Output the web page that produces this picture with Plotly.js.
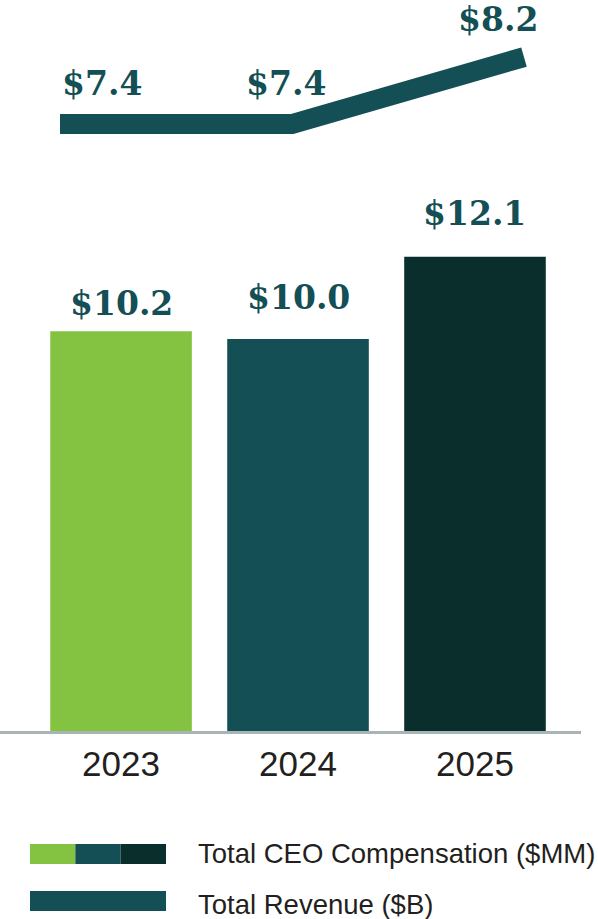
<!DOCTYPE html>
<html>
<head>
<meta charset="utf-8">
<script src="https://cdn.plot.ly/plotly-3.0.1.min.js"></script>
<style>html,body{margin:0;padding:0;background:#fff;}#chart{width:598px;height:919px;}</style>
</head>
<body>
<div id="chart"></div>
<script>
// ---- data ----
const years = ['2023', '2024', '2025'];
const ceoComp = [10.2, 10.0, 12.1];          // Total CEO Compensation ($MM)
const revenue = [7.4, 7.4, 8.2];             // Total Revenue ($B)
const seriesNames = ['Total CEO Compensation ($MM)', 'Total Revenue ($B)'];

// ---- styles ----
const barColors = ['#84c341', '#134f55', '#0a2e2c'];
const lineColor = '#134f55';
const labelColor = '#134f55';
const textColor = '#231f20';
const W = 598, H = 919;
const mL = 0, mR = 17, mT = 0, mB = 188;
const plotH = H - mT - mB, plotW = W - mL - mR;
const py = p => (H - mB - p) / plotH;   // pixel y -> paper y
const px = p => (p - mL) / plotW;       // pixel x -> paper x

const serif = {family: 'DejaVu Serif', size: 33, color: labelColor, weight: 700};

const traces = [
  {
    type: 'bar', x: years, y: ceoComp, name: seriesNames[0],
    marker: {color: barColors}, width: 0.8,
    showlegend: false, hoverinfo: 'skip'
  },
  {
    type: 'scatter', mode: 'lines', x: years, y: revenue, name: seriesNames[1],
    xaxis: 'x2', yaxis: 'y2',
    line: {color: lineColor, width: 20}, showlegend: false, hoverinfo: 'skip', cliponaxis: false
  }
];

// bar value labels
const barShift = [6, 20, 22];
const annotations = ceoComp.map((v, i) => ({
  x: i, y: v, xref: 'x', yref: 'y', text: '$' + v.toFixed(1),
  showarrow: false, xanchor: 'center', yanchor: 'bottom', yshift: barShift[i],
  font: serif
}));

// line value labels
const anchors = ['left', 'center', 'right'];
const xshifts = [0, -6, 16];
const yshifts = [19, 19, 16];
revenue.forEach((v, i) => annotations.push({
  x: i, y: v, xref: 'x2', yref: 'y2', text: '$' + v.toFixed(1),
  showarrow: false, xanchor: anchors[i], yanchor: 'bottom', xshift: xshifts[i], yshift: yshifts[i],
  font: serif
}));

// legend text
const legFont = {family: 'Liberation Sans, Arial', size: 27.5, color: textColor};
annotations.push(
  {x: px(196), y: py(853.5), xref: 'paper', yref: 'paper', xanchor: 'left', yanchor: 'middle',
   text: seriesNames[0], showarrow: false, font: legFont},
  {x: px(196), y: py(904.5), xref: 'paper', yref: 'paper', xanchor: 'left', yanchor: 'middle',
   text: seriesNames[1], showarrow: false, font: legFont}
);

// legend swatches
const shapes = [];
const segW = (166 - 30) / barColors.length;
barColors.forEach((c, i) => shapes.push({
  type: 'rect', xref: 'paper', yref: 'paper', layer: 'above',
  x0: px(30 + i * segW), x1: px(30 + (i + 1) * segW), y0: py(864), y1: py(844),
  fillcolor: c, line: {width: 0}
}));
shapes.push({
  type: 'rect', xref: 'paper', yref: 'paper', layer: 'above',
  x0: px(30), x1: px(166), y0: py(911), y1: py(891),
  fillcolor: lineColor, line: {width: 0}
});

const layout = {
  width: W, height: H,
  margin: {l: mL, r: mR, t: mT, b: mB, pad: 0},
  paper_bgcolor: '#fff', plot_bgcolor: '#fff',
  showlegend: false,
  xaxis: {
    type: 'category', range: [-0.684, 2.599], showgrid: false, zeroline: false,
    showline: true, linecolor: '#a9b5b5', linewidth: 3, ticks: '',
    tickfont: {family: 'Liberation Sans, Arial', size: 35, color: textColor},
    fixedrange: true
  },
  yaxis: {range: [0, plotH / 39.2], visible: false, fixedrange: true},
  xaxis2: {type: 'category', overlaying: 'x', range: [-0.2586, 2.2457], visible: false, fixedrange: true},
  yaxis2: {overlaying: 'y', range: [0.152, 8.881], visible: false, fixedrange: true},
  annotations: annotations,
  shapes: shapes
};

Plotly.newPlot('chart', traces, layout, {staticPlot: true, displayModeBar: false});
</script>
</body>
</html>
